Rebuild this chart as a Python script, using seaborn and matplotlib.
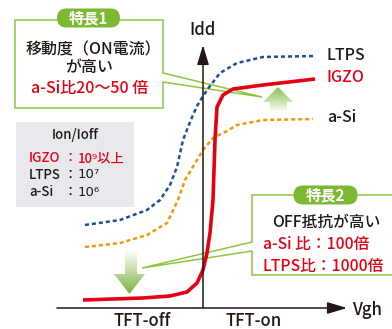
import numpy as np
import pandas as pd
import matplotlib.pyplot as plt
import seaborn as sns
from matplotlib.patches import Polygon, FancyBboxPatch, Rectangle
from matplotlib.colors import LinearSegmentedColormap

# transfer curves, Vgh vs Idd (arbitrary units, origin where the axes cross)
ltps_vgh = [-11.8, -8.3, -5.6, -4.3, -3.3, -2.6, -2.0, -1.3, -0.6, 0.4, 1.7, 3.4, 6.0, 11.0]
ltps_idd = [8.3, 8.8, 9.8, 10.8, 12.3, 14.1, 16.8, 18.6, 20.2, 21.8, 23.5, 24.5, 25.1, 25.2]
igzo_vgh = [-12.0, -6.0, -3.3, -1.6, -0.6, 0.0, 0.4, 0.7, 1.0, 1.2, 1.4, 2.0, 3.0, 6.0, 11.2]
igzo_idd = [0.8, 1.0, 1.2, 1.6, 2.5, 3.8, 5.5, 7.5, 10.8, 16.8, 20.1, 21.3, 21.9, 22.3, 22.9]
asi_vgh = [-11.8, -8.3, -5.6, -3.6, -2.5, -1.8, -0.6, 0.0, 1.0, 2.4, 3.4, 6.0, 11.0]
asi_idd = [6.1, 6.5, 7.3, 8.5, 10.8, 12.8, 14.8, 15.8, 17.0, 17.7, 18.3, 18.8, 18.9]

curve_names = ["LTPS", "IGZO", "a-Si"]
x_labels = ["TFT-off", "TFT-on"]

box1_lines = ["移動度（ON電流）", "が高い", "a-Si比20～50 倍"]
box2_lines = ["OFF抵抗が高い", "a-Si 比：100倍", "LTPS比：1000倍"]
ratio_names = ["IGZO", "LTPS", "a-Si"]
ratio_values = ["10⁹以上", "10⁷", "10⁶"]

RED = "#e60012"
BLUE = "#1b4f9c"
ORANGE = "#f39800"
GREEN = "#8cc63f"
TAG = "#7cb832"
INK = "#231815"

sns.set_theme(style="white")
plt.rcParams["font.family"] = ["Noto Sans CJK JP", "DejaVu Sans"]
plt.rcParams["font.weight"] = "medium"

fig = plt.figure(figsize=(3.92, 3.29), dpi=100)
ax = fig.add_axes([0, 0, 1, 1])
ax.set_axis_off()

# speech bubbles (below the curves)
bubble1 = Polygon([(-18.8, 28.8), (-4.0, 28.8), (-4.0, 23.5), (5.9, 21.1),
                   (-4.0, 22.6), (-4.0, 20.0), (-18.8, 20.0)],
                  closed=True, facecolor="white", edgecolor=GREEN, lw=1.1, zorder=1)
ax.add_patch(bubble1)
bubble2 = Polygon([(4.9, 11.3), (20.5, 11.3), (20.5, 3.3), (4.9, 3.3),
                   (4.9, 5.7), (-6.1, 4.0), (4.9, 6.6)],
                  closed=True, facecolor="white", edgecolor=GREEN, lw=1.1, zorder=1)
ax.add_patch(bubble2)

# curves
sns.lineplot(x=ltps_vgh, y=ltps_idd, ax=ax, color=BLUE, lw=1.8,
             linestyle=(0, (1.6, 1.2)), zorder=3, legend=False)
sns.lineplot(x=asi_vgh, y=asi_idd, ax=ax, color=ORANGE, lw=1.8,
             linestyle=(0, (1.6, 1.2)), zorder=3, legend=False)
sns.lineplot(x=igzo_vgh, y=igzo_idd, ax=ax, color=RED, lw=2.6,
             solid_joinstyle="round", solid_capstyle="butt", zorder=4, legend=False)

# axes with arrow heads
arrow = dict(arrowstyle="-|>,head_length=1.0,head_width=0.3", color=INK, lw=1.1,
             shrinkA=0, shrinkB=0)
ax.annotate("", xy=(14.4, 0), xytext=(-14.6, 0), arrowprops=arrow, zorder=5)
ax.annotate("", xy=(0, 26.3), xytext=(0, 0), arrowprops=arrow, zorder=5)
ax.text(0, 27.8, "Idd", ha="center", va="center", fontsize=12, color=INK)
ax.text(14.9, -0.2, "Vgh", ha="left", va="center", fontsize=12, color=INK)
ax.text(-6.1, -1.3, x_labels[0], ha="center", va="center", fontsize=12, color=INK)
ax.text(5.1, -1.3, x_labels[1], ha="center", va="center", fontsize=12, color=INK)

label_y = [25.3, 23.0, 19.0]
label_c = [INK, RED, INK]
for name, y, c in zip(curve_names, label_y, label_c):
    ax.text(12.4, y, name, ha="left", va="center", fontsize=11.5, color=c)

# gradient arrows
def grad_arrow(pts, x0, x1, y0, y1, c_bottom, c_top):
    poly = Polygon(pts, closed=True, facecolor="none", edgecolor="none",
                   transform=ax.transData)
    ax.add_patch(poly)
    cmap = LinearSegmentedColormap.from_list("g", [c_bottom, c_top])
    g = np.linspace(0, 1, 64).reshape(-1, 1)
    im = ax.imshow(g, extent=[x0, x1, y0, y1], origin="lower", cmap=cmap,
                   aspect="auto", zorder=6)
    im.set_clip_path(poly)

grad_arrow([(7.5, 22.1), (9.0, 20.6), (8.4, 20.6), (8.4, 19.5), (6.7, 19.5),
            (6.7, 20.6), (6.0, 20.6)], 6.0, 9.0, 19.5, 22.1, "#ffffff", "#86bf4e")
grad_arrow([(-7.8, 5.8), (-6.6, 5.8), (-6.6, 3.4), (-5.8, 3.4), (-7.35, 1.4),
            (-8.9, 3.4), (-7.8, 3.4)], -8.9, -5.8, 1.4, 5.8, "#7ab340", "#ffffff")

# feature box 1
tag1 = FancyBboxPatch((-14.6, 28.05), 6.3, 1.9, boxstyle="round,pad=0,rounding_size=0.95",
                      facecolor=TAG, edgecolor="none", zorder=7)
ax.add_patch(tag1)
ax.text(-11.45, 29.0, "特長1", ha="center", va="center", fontsize=11,
        color="white", fontweight="bold", zorder=8)
for line, x, y, c in zip(box1_lines, [-11.0, -11.4, -11.3], [25.8, 24.1, 22.0],
                         [INK, INK, RED]):
    ax.text(x, y, line, ha="center", va="center", fontsize=11.5, color=c, zorder=8)

# feature box 2
tag2 = FancyBboxPatch((9.05, 10.35), 6.4, 1.9, boxstyle="round,pad=0,rounding_size=0.95",
                      facecolor=TAG, edgecolor="none", zorder=7)
ax.add_patch(tag2)
ax.text(12.25, 11.3, "特長2", ha="center", va="center", fontsize=11,
        color="white", fontweight="bold", zorder=8)
ax.text(12.3, 8.6, box2_lines[0], ha="center", va="center", fontsize=11.3, color=INK, zorder=8)
ax.text(6.0, 6.3, box2_lines[1], ha="left", va="center", fontsize=11.3, color=RED, zorder=8)
ax.text(6.0, 4.1, box2_lines[2], ha="left", va="center", fontsize=11.3, color=RED, zorder=8)

# Ion/Ioff box
ax.add_patch(Rectangle((-18.7, 10.1), 11.8, 8.5, facecolor="#e7e9ec",
                       edgecolor="none", zorder=1))
ax.text(-12.8, 17.3, "Ion/Ioff", ha="center", va="center", fontsize=9.5, color=INK)
for name, val, y, c in zip(ratio_names, ratio_values, [15.0, 13.3, 11.6], [RED, INK, INK]):
    ax.text(-17.4, y, name, ha="left", va="center", fontsize=9.5, color=c)
    ax.text(-13.3, y, "：", ha="center", va="center", fontsize=9.5, color=c)
    ax.text(-12.5, y, val, ha="left", va="center", fontsize=9.5, color=c,
            family=["DejaVu Sans", "Noto Sans CJK JP"] if val[-1] != "上" else None)

ax.set_xlim(-20.3, 18.9)
ax.set_ylim(-2.1, 30.8)

fig.savefig("out.png", dpi=100)
